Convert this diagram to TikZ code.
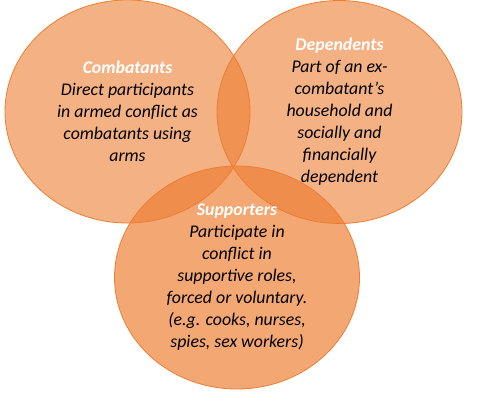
\documentclass[tikz,border=0pt]{standalone}
\usepackage{fontspec}
\setmainfont{Carlito}
\usepackage{xcolor}
\usepackage{tikz}
\usetikzlibrary{shapes.geometric}
\definecolor{accorange}{RGB}{237, 125, 49}

\begin{document}
\begin{tikzpicture}[x=1pt, y=-1pt,
  group/.style={ellipse, draw=accorange, line width=0.8pt, fill=accorange, fill opacity=0.6,
    minimum width=245pt, minimum height=223pt, inner sep=0pt},
  grouptext/.style={align=center, font=\fontsize{17.8}{22}\selectfont\itshape, text=black},
]
  % Frame
  \useasboundingbox (0,0) rectangle (498,400);

  % Circles
  \node[group] (combat) at (127.5, 111.5) {};
  \node[group] (depend) at (339.5, 112) {};
  \node[group, fill opacity=0.68] (support) at (237, 277.5) {};

  % Texts
  \node[grouptext] (combattext) at (combat.center)
    {{\color{white}\bfseries Combatants}\\ Direct participants\\ in armed conflict as\\ combatants using\\ arms};
  \node[grouptext] (dependtext) at (depend.center)
    {{\color{white}\bfseries Dependents}\\ Part of an ex-\\ combatant’s\\ household and\\ socially and\\ financially\\ dependent};
  \node[grouptext] (supporttext) at (support.center)
    {{\color{white}\bfseries Supporters}\\ Participate in\\ conflict in\\ supportive roles,\\ forced or voluntary.\\ (e.g. cooks, nurses,\\ spies, sex workers)};
\end{tikzpicture}
\end{document}
